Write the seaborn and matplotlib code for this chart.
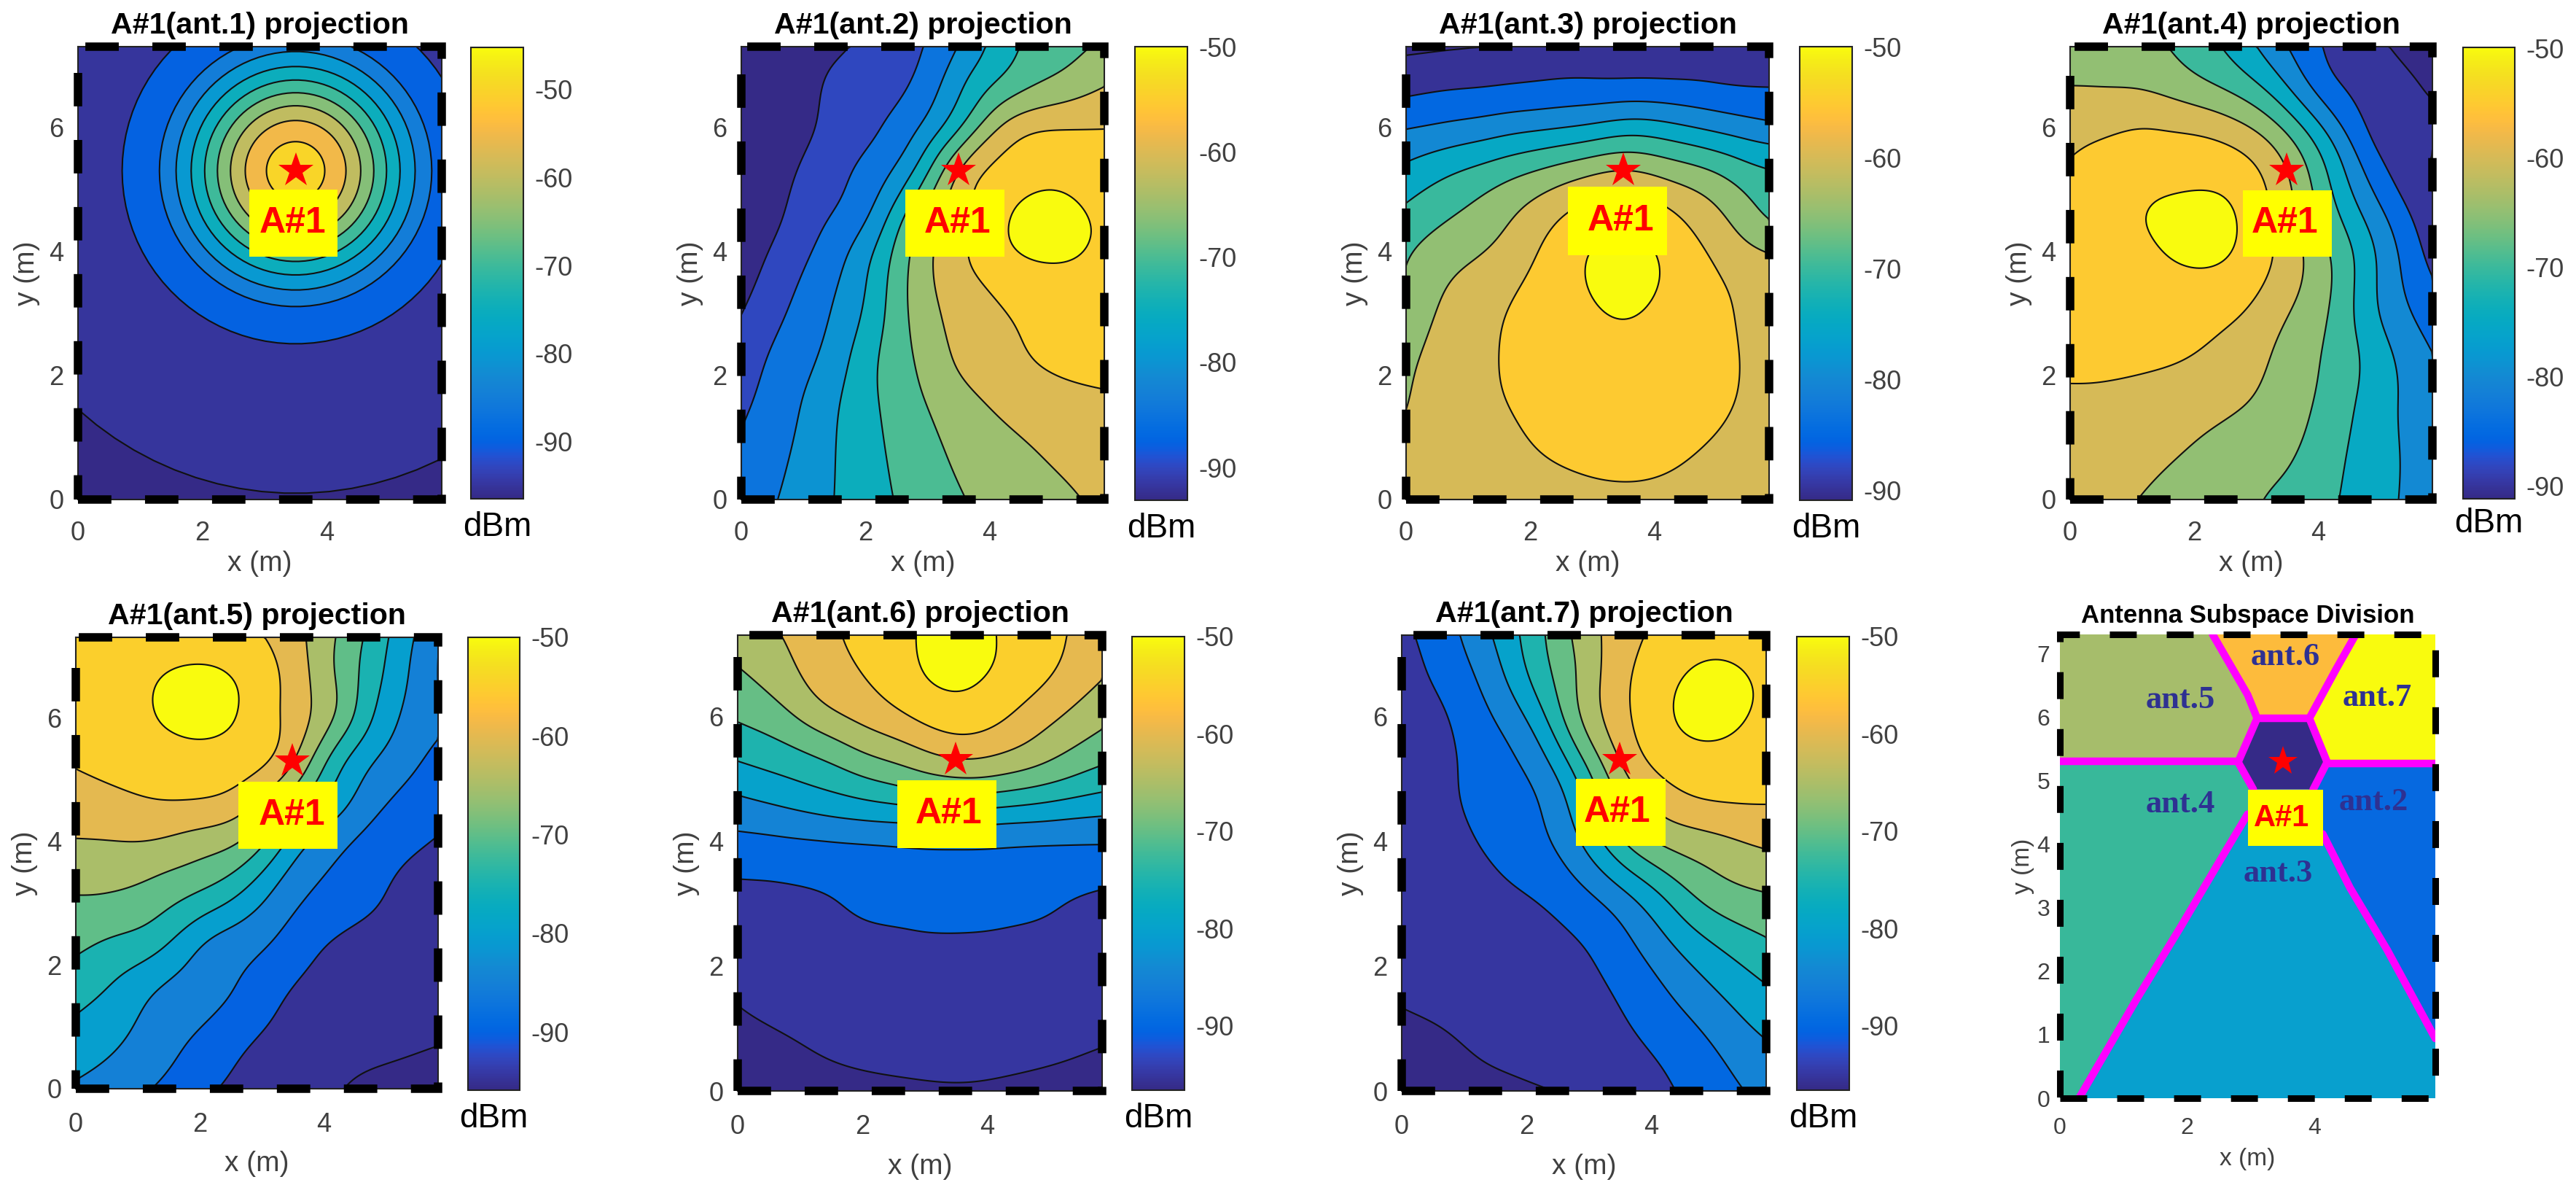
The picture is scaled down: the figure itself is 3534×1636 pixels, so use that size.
import matplotlib
matplotlib.use("Agg")
import numpy as np
import seaborn as sns
import matplotlib.pyplot as plt
import matplotlib.tri as tri
from matplotlib.cm import ScalarMappable
from matplotlib.colors import Normalize

# sample grid (m), values below are dBm, rows go from y=0 up
x_grid = [0, 0.7, 1.4, 2.1, 2.8, 3.5, 4.2, 4.9, 5.85]
y_grid = [0, 0.8, 1.6, 2.4, 3.2, 4.0, 4.6, 5.3, 6.0, 6.6, 7.3]

# ant.1 rings are circles round the access point, so read one radial profile
ant1_radius = [0, 0.3, 0.68, 0.94, 1.155, 1.36, 1.565, 1.795, 2.05, 2.33, 3.25, 7.15]
ant1_ring_dbm = [-46.5, -48, -52.5, -57.5, -62.5, -67.5, -72.5, -77.5, -82.5, -87.5, -92.5, -97.5]

ant2_dbm = [
    [-83, -79.4, -75.5, -71.8, -68.3, -65.4, -63.2, -61.5, -59],
    [-84.3, -80.7, -75.8, -71.3, -67.3, -64, -61.5, -59.6, -57.7],
    [-86, -82, -76.6, -70.8, -66, -61.8, -58.8, -57, -55.7],
    [-88, -83.5, -79, -71.2, -64.6, -58.9, -56.4, -54, -53],
    [-90.8, -85.7, -80.7, -73.5, -63.2, -58, -54.7, -52.7, -52],
    [-93, -88.2, -83, -75.6, -63.5, -56, -50.8, -49, -51],
    [-94, -90, -85.3, -80, -66.7, -57.2, -50.7, -48.5, -51],
    [-95, -91, -87.3, -83, -75, -59.4, -53.2, -51, -52.5],
    [-95.5, -92.5, -89, -86, -81, -71, -59, -55.2, -55],
    [-96, -93.5, -89.2, -87, -84.3, -75.7, -67.8, -63.5, -59.5],
    [-96.5, -94.5, -91.5, -88.7, -86, -80, -72.3, -67.8, -64],
]

ant3_dbm = [
    [-58, -57.5, -57, -56.5, -55.8, -55.5, -55.8, -56.5, -57.3],
    [-59, -57.8, -56.5, -55, -54.2, -53.9, -54.2, -55.3, -56.8],
    [-60.2, -57.5, -55.5, -53.8, -52.5, -52, -52.5, -54, -56.3],
    [-61.3, -57.8, -55.3, -53, -51.3, -50.8, -51.5, -53.6, -56.3],
    [-64, -59, -56.2, -53.2, -50.6, -49.3, -50.7, -53.5, -57.7],
    [-65.5, -62, -59.5, -55.2, -50.4, -48.8, -50.6, -55.4, -60],
    [-68.8, -65.4, -62.2, -57.8, -53.5, -51.3, -53.8, -58.4, -66.2],
    [-73.8, -70.6, -67.8, -64.8, -61.7, -59.5, -61.8, -64.6, -69.5],
    [-80.3, -79, -77.5, -76, -74.7, -72.5, -73.5, -76, -79],
    [-86, -85, -84.5, -83.8, -83.2, -83, -83.2, -83.9, -84.7],
    [-91, -90.5, -89.9, -89.2, -89, -89, -89, -89.2, -89.8],
]

ant4_dbm = [
    [-57.5, -59, -60.8, -62.5, -64, -66.3, -69.3, -72.8, -78],
    [-56.5, -57.7, -59, -60.6, -62.5, -64, -68.3, -72.5, -78],
    [-55.7, -56, -56.8, -57.9, -59.6, -62.5, -66.8, -72.2, -78.6],
    [-53.5, -53.5, -53.8, -55, -57.3, -61.5, -65.9, -72.2, -80.3],
    [-52.8, -52.3, -51.8, -52.5, -54, -59, -64.8, -74.5, -83.5],
    [-53.5, -52, -50.3, -48.5, -50.8, -57, -65, -74.5, -87],
    [-53, -51.5, -49.3, -48, -50.6, -58, -68, -77.6, -89],
    [-54.5, -53, -51.8, -51.5, -52.9, -59.6, -70.8, -82.5, -90.5],
    [-56.5, -55.5, -55, -56, -59, -66, -77, -86.5, -89.5],
    [-59.7, -59.8, -60.5, -63.2, -66.8, -74.2, -83.5, -87.3, -90.3],
    [-62.5, -62.8, -64.3, -67.8, -73, -80, -86, -89, -93],
]

ant5_dbm = [
    [-80.7, -83, -85.7, -89.3, -91.5, -93, -94.8, -95.7, -96.5],
    [-76.8, -79.5, -83, -86.2, -89.7, -92, -93.5, -94.2, -94.8],
    [-73, -76.3, -80.7, -83.2, -86.2, -90.3, -92, -93, -93.6],
    [-68.6, -70.7, -73.6, -80.2, -83.2, -87, -90.4, -91.7, -92.8],
    [-64.7, -65, -67.3, -70.3, -76, -83.4, -86.5, -89.5, -92.3],
    [-60.2, -60, -60.4, -62.6, -66, -76.9, -83.5, -87.5, -90.3],
    [-57.4, -56.5, -55.3, -55.6, -59, -69, -77.8, -84.4, -88.8],
    [-54.5, -53, -51.8, -51.5, -52.9, -59, -73, -80.8, -86.8],
    [-53.5, -52, -49.6, -48.5, -51, -56.8, -65, -76.6, -84],
    [-54, -52.2, -49.6, -48.7, -50.9, -56.8, -65, -74.5, -85.4],
    [-54.3, -53.5, -52.6, -52.3, -53.8, -58, -65, -73, -84.2],
]

ant6_dbm = [
    [-97, -96.7, -96.3, -95.8, -95.5, -95.3, -95.5, -95.9, -96.6],
    [-95.8, -95.3, -94.4, -93.8, -93.5, -93.4, -93.6, -94, -94.8],
    [-94.6, -93.6, -93, -92.5, -92.2, -92.1, -92.2, -92.5, -93.2],
    [-92.6, -92.2, -91.6, -91, -90.7, -90.6, -90.7, -90.9, -91.7],
    [-90.9, -90.6, -90, -88.8, -88, -87.7, -88.1, -89, -90.3],
    [-86.3, -85.8, -85.2, -84.7, -84.3, -84, -84.3, -84.5, -84.6],
    [-81.3, -79.5, -77.5, -75.7, -74.2, -73.2, -73.8, -75.3, -77.5],
    [-74.8, -72.8, -70, -66, -63, -60, -61, -64, -69.2],
    [-69.3, -66.5, -61.5, -58, -54.6, -52, -54, -58.3, -63.7],
    [-66, -62.5, -57.5, -54.8, -50.9, -49, -50.8, -54.3, -60],
    [-62.5, -60, -56.3, -53.1, -50.3, -48, -50.2, -53.4, -57.8],
]

ant7_dbm = [
    [-96.8, -96.3, -95.9, -95.3, -94.5, -92.8, -90.8, -87.8, -83.5],
    [-95.8, -95.3, -94.3, -93.6, -92.5, -91, -88.8, -85.3, -80],
    [-94.6, -94, -93.4, -92.7, -91.7, -89.5, -85.5, -81, -75.5],
    [-93.6, -93, -92.4, -91.5, -90.3, -86.7, -81, -75.3, -70.3],
    [-93, -92.2, -91, -89.7, -86.5, -81, -74, -67.7, -64.8],
    [-92.8, -91.8, -89.3, -86.8, -81, -70.5, -63.8, -61.7, -59],
    [-92.8, -91.2, -88, -86, -78, -65, -58, -55.3, -54.8],
    [-92.8, -91, -87.5, -83.3, -72.3, -59.6, -52.8, -51, -52.5],
    [-92.7, -90.4, -85.5, -78.5, -65.7, -56.7, -50.6, -48.7, -51],
    [-92.3, -88.6, -83.2, -74.2, -65, -56.5, -51.2, -48.8, -50.8],
    [-91, -87, -80.5, -72.5, -64, -57.5, -53.5, -51.8, -52.6],
]

panel_fields = [None, ant2_dbm, ant3_dbm, ant4_dbm, ant5_dbm, ant6_dbm, ant7_dbm]
panel_titles = ["A#1(ant.1) projection", "A#1(ant.2) projection", "A#1(ant.3) projection",
                "A#1(ant.4) projection", "A#1(ant.5) projection", "A#1(ant.6) projection",
                "A#1(ant.7) projection"]
clim_low = [-96.5, -93.1, -90.9, -91.2, -95.9, -96.6, -96.6]
clim_high = [-45.2, -50, -50, -49.9, -50, -50, -50]
lowest_level = [-95, -90, -90, -90, -95, -95, -95]
cbar_ticks = [-90, -80, -70, -60, -50]
star_xy = (3.5, 5.3)

# label box around the access point: left, right, bottom, top, text x
ap_boxes = [
    (2.75, 4.17, 3.91, 5.0, 3.45),
    (2.64, 4.24, 3.91, 5.0, 3.48),
    (2.61, 4.20, 3.94, 5.04, 3.46),
    (2.79, 4.22, 3.91, 4.99, 3.47),
    (2.63, 4.23, 3.88, 4.97, 3.49),
    (2.56, 4.15, 3.89, 4.98, 3.39),
    (2.80, 4.23, 3.92, 5.0, 3.46),
    (2.95, 4.13, 3.97, 4.85, 3.48),
]

# subspace division, last panel
region_names = ["ant.2", "ant.3", "ant.4", "ant.5", "ant.6", "ant.7"]
region_label_x = [4.93, 3.43, 1.89, 1.89, 3.54, 4.99]
region_label_y = [4.66, 3.54, 4.62, 6.27, 6.94, 6.30]
region_colors = ["#0669E0", "#08A0CE", "#38B89A", "#A6BD6B", "#FDBB3C", "#F9FB0E"]
region_polys = [
    [(4.2, 5.27), (5.9, 5.27), (5.9, 0.94), (5.14, 2.34), (4.56, 3.31), (4.13, 4.16), (3.98, 4.86)],
    [(0.3, 0), (1.2, 1.55), (1.9, 2.7), (2.55, 3.8), (2.95, 4.47), (3.04, 4.86), (3.98, 4.86),
     (4.13, 4.16), (4.56, 3.31), (5.14, 2.34), (5.9, 0.94), (5.9, 0)],
    [(0, 0), (0.3, 0), (1.2, 1.55), (1.9, 2.7), (2.55, 3.8), (2.95, 4.47), (3.04, 4.86), (2.8, 5.3), (0, 5.3)],
    [(0, 5.3), (2.8, 5.3), (3.1, 5.98), (2.95, 6.35), (2.4, 7.3), (0, 7.3)],
    [(2.4, 7.3), (2.95, 6.35), (3.1, 5.98), (3.92, 5.98), (4.35, 6.77), (4.65, 7.3)],
    [(4.65, 7.3), (4.35, 6.77), (3.92, 5.98), (4.2, 5.27), (5.9, 5.27), (5.9, 7.3)],
]
center_poly = [(3.1, 5.98), (3.92, 5.98), (4.2, 5.29), (3.98, 4.86), (3.04, 4.86), (2.8, 5.29)]
border_lines = [
    [(0, 5.3), (2.8, 5.3)],
    [(4.2, 5.27), (5.9, 5.27)],
    [(2.4, 7.3), (2.95, 6.35), (3.1, 5.98)],
    [(4.65, 7.3), (4.35, 6.77), (3.92, 5.98)],
    [(0.3, 0), (1.2, 1.55), (1.9, 2.7), (2.55, 3.8), (2.95, 4.47)],
    [(4.13, 4.16), (4.56, 3.31), (5.14, 2.34), (5.9, 0.94)],
    [(3.04, 4.86), (2.8, 5.29), (3.1, 5.98), (3.92, 5.98), (4.2, 5.29), (3.98, 4.86)],
]

parula_rgb = [
    (.2081, .1663, .5292), (.2116, .1898, .5777), (.2123, .2138, .6270), (.2081, .2386, .6771),
    (.1959, .2645, .7279), (.1707, .2919, .7792), (.1253, .3242, .8303), (.0591, .3598, .8683),
    (.0117, .3875, .8820), (.0060, .4086, .8828), (.0165, .4266, .8786), (.0329, .4430, .8720),
    (.0498, .4586, .8641), (.0629, .4737, .8554), (.0723, .4887, .8467), (.0779, .5040, .8384),
    (.0793, .5200, .8312), (.0749, .5375, .8263), (.0641, .5570, .8240), (.0488, .5772, .8228),
    (.0343, .5966, .8199), (.0265, .6137, .8135), (.0239, .6287, .8038), (.0231, .6418, .7913),
    (.0228, .6535, .7768), (.0267, .6642, .7607), (.0384, .6743, .7436), (.0590, .6838, .7254),
    (.0843, .6928, .7062), (.1133, .7015, .6859), (.1453, .7098, .6646), (.1801, .7177, .6424),
    (.2178, .7250, .6193), (.2586, .7317, .5954), (.3022, .7376, .5712), (.3482, .7424, .5473),
    (.3953, .7459, .5244), (.4420, .7481, .5033), (.4871, .7491, .4840), (.5300, .7491, .4661),
    (.5709, .7485, .4494), (.6099, .7473, .4337), (.6473, .7456, .4188), (.6834, .7435, .4044),
    (.7184, .7411, .3905), (.7525, .7384, .3768), (.7858, .7356, .3633), (.8185, .7327, .3498),
    (.8507, .7299, .3360), (.8824, .7274, .3217), (.9139, .7258, .3063), (.9450, .7261, .2886),
    (.9739, .7314, .2666), (.9938, .7455, .2403), (.9990, .7653, .2164), (.9955, .7861, .1967),
    (.9880, .8066, .1794), (.9789, .8271, .1633), (.9697, .8481, .1475), (.9626, .8705, .1309),
    (.9589, .8949, .1132), (.9598, .9218, .0948), (.9661, .9514, .0755), (.9763, .9831, .0538),
]

# layout in pixels: axes left, right, top, bottom and colorbar left, right, top, bottom
W, H = 3534, 1636
axes_px = [
    (107, 606, 64, 685), (1017, 1515, 64, 685), (1929, 2427, 64, 685), (2840, 3337, 64, 685),
    (104, 601, 874, 1493), (1012, 1512, 871, 1496), (1923, 2423, 871, 1496),
]
cbar_px = [
    (646, 718, 65, 684), (1557, 1629, 64, 686), (2469, 2541, 64, 686), (3379, 3450, 65, 684),
    (642, 713, 874, 1495), (1553, 1625, 873, 1495), (2465, 2537, 873, 1495),
]
dbm_offset = [-0.0625, -0.0625, -0.0625, -0.055, -0.0625, -0.0625, -0.0625]
last_px = (2826, 3341, 870, 1506)
TEXT_GREY = "#404040"
BLUR_M = 0.2


def add_axes_px(fig, box):
    left, right, top, bottom = box
    return fig.add_axes([left / W, 1 - bottom / H, (right - left) / W, (bottom - top) / H])


def draw_dashes(ax, xmax, ymax, width, on, off):
    # goes round from the origin, counter-clockwise
    line = ax.plot([0, xmax, xmax, 0, 0], [0, 0, ymax, ymax, 0], color="black", lw=width,
                   dashes=(on, off), clip_on=False, zorder=10)[0]
    line.set_dash_capstyle("butt")
    line.set_dash_joinstyle("miter")


def draw_ap(ax, box, font_size, star_size):
    left, right, bottom, top, text_x = box
    ax.fill([left, right, right, left], [bottom, bottom, top, top], color="#FFFF00", lw=0, zorder=5)
    ax.text(text_x, (bottom + top) / 2, "A#1", color="red", fontsize=font_size, fontweight="bold",
            ha="center", va="center", zorder=6)
    ax.plot([star_xy[0]], [star_xy[1]], marker="*", ms=star_size, color="red", mew=0, zorder=7,
            clip_on=False)


def soften(values, step):
    # hand-read grid is a bit wobbly, take the wiggles out before contouring
    half = int(round(3 * BLUR_M / step))
    offsets = np.arange(-half, half + 1) * step
    kernel = np.exp(-0.5 * (offsets / BLUR_M) ** 2)
    kernel /= kernel.sum()
    padded = np.pad(values, half, mode="reflect", reflect_type="odd")
    padded = np.apply_along_axis(lambda r: np.convolve(r, kernel, mode="same"), 0, padded)
    padded = np.apply_along_axis(lambda r: np.convolve(r, kernel, mode="same"), 1, padded)
    return padded[half:-half, half:-half]


def draw_contours(ax, idx, cmap, norm):
    levels = list(range(lowest_level[idx], -45, 5))
    band_colors = [cmap(0.0)] + [cmap(norm(v)) for v in levels]
    bounds = [-200] + levels + [0]
    if panel_fields[idx] is None:
        angles = np.arange(0, 360, 4) * np.pi / 180
        xs = [star_xy[0]]
        ys = [star_xy[1]]
        zs = [ant1_ring_dbm[0]]
        for radius, dbm in zip(ant1_radius[1:], ant1_ring_dbm[1:]):
            xs.extend(star_xy[0] + radius * np.cos(angles))
            ys.extend(star_xy[1] + radius * np.sin(angles))
            zs.extend([dbm] * len(angles))
        mesh = tri.Triangulation(xs, ys)
        ax.tricontourf(mesh, zs, levels=bounds, colors=band_colors)
        ax.tricontour(mesh, zs, levels=levels, colors="#111111", linewidths=1.5, linestyles="solid")
        return

    xx, yy = np.meshgrid(x_grid, y_grid)
    field = np.array(panel_fields[idx], dtype=float)
    mesh = tri.Triangulation(xx.ravel(), yy.ravel())
    smooth = tri.CubicTriInterpolator(mesh, field.ravel(), kind="min_E")
    step = 0.04
    xf = np.clip(np.arange(0, 5.85 + step, step), 1e-6, 5.85 - 1e-6)
    yf = np.clip(np.arange(0, 7.3 + step, step), 1e-6, 7.3 - 1e-6)
    xxf, yyf = np.meshgrid(xf, yf)
    zf = soften(np.ma.filled(smooth(xxf, yyf), np.nan), step)
    ax.contourf(xf, yf, zf, levels=bounds, colors=band_colors)
    ax.contour(xf, yf, zf, levels=levels, colors="#111111", linewidths=1.5, linestyles="solid")


def draw_field(fig, idx, cmap):
    ax = add_axes_px(fig, axes_px[idx])
    norm = Normalize(clim_low[idx], clim_high[idx])
    draw_contours(ax, idx, cmap, norm)

    ax.set_xlim(0, 5.85)
    ax.set_ylim(0, 7.3)
    ax.set_xticks([0, 2, 4])
    ax.set_yticks([0, 2, 4, 6])
    bottom_row = idx >= 4
    ax.tick_params(axis="x", direction="in", length=6, width=1, labelsize=26, labelcolor=TEXT_GREY,
                   pad=23 if bottom_row else 21)
    ax.tick_params(axis="y", direction="in", length=6, width=1, labelsize=26, labelcolor=TEXT_GREY, pad=14)
    for spine in ax.spines.values():
        spine.set_linewidth(1.5)
        spine.set_color("#222222")

    ax.set_xlabel("x (m)", fontsize=28, color=TEXT_GREY, va="center")
    ax.set_ylabel("y (m)", fontsize=28, color=TEXT_GREY, va="center")
    ax.xaxis.set_label_coords(0.5, -0.166 if bottom_row else -0.142)
    ax.yaxis.set_label_coords(-0.14, 0.5)
    ax.text(0.5, 1.047, panel_titles[idx], transform=ax.transAxes, fontsize=29.6, fontweight="bold",
            ha="center", va="center", color="black")

    draw_dashes(ax, 5.85, 7.3, 8.3, 33, 33.2)
    draw_ap(ax, ap_boxes[idx], 36, 35.6)

    cax = add_axes_px(fig, cbar_px[idx])
    cbar = fig.colorbar(ScalarMappable(norm=norm, cmap=cmap), cax=cax, ticks=cbar_ticks)
    cbar.outline.set_linewidth(1.5)
    cbar.outline.set_edgecolor("#222222")
    cax.tick_params(direction="in", length=6, width=1, labelsize=26, labelcolor=TEXT_GREY, pad=11)
    cax.text(0.5, dbm_offset[idx], "dBm", transform=cax.transAxes, fontsize=33, ha="center", va="center",
             color="black")


def draw_division(fig):
    ax = add_axes_px(fig, last_px)
    for poly, color in zip(region_polys, region_colors):
        ax.fill(*zip(*poly), color=color, lw=0)
    ax.fill(*zip(*center_poly), color="#352A87", lw=0)
    for line in border_lines:
        ax.plot(*zip(*line), color="#FF00FF", lw=7.5, solid_capstyle="round", zorder=3)
    for name, lx, ly in zip(region_names, region_label_x, region_label_y):
        ax.text(lx, ly, name, fontsize=32, fontweight="bold", color="#2E3192", family="Liberation Serif",
                ha="center", va="center", zorder=6)

    ax.set_xlim(0, 5.9)
    ax.set_ylim(0, 7.3)
    ax.set_xticks([0, 2, 4])
    ax.set_yticks(range(8))
    ax.tick_params(axis="x", length=0, labelsize=23, labelcolor=TEXT_GREY, pad=19)
    ax.tick_params(axis="y", length=0, labelsize=23, labelcolor=TEXT_GREY, pad=10)
    sns.despine(ax=ax, left=True, bottom=True)
    ax.set_xlabel("x (m)", fontsize=24, color=TEXT_GREY, va="center")
    ax.set_ylabel("y (m)", fontsize=24, color=TEXT_GREY, va="center")
    ax.xaxis.set_label_coords(0.5, -0.132)
    ax.yaxis.set_label_coords(-0.098, 0.5)
    ax.text(0.5, 1.04, "Antenna Subspace Division", transform=ax.transAxes, fontsize=25,
            fontweight="bold", ha="center", va="center", color="black")

    draw_dashes(ax, 5.9, 7.3, 6.5, 26.6, 29.6)
    draw_ap(ax, ap_boxes[7], 30, 30)


def main():
    sns.set_theme(style="ticks")
    plt.rcParams["font.family"] = ["Liberation Sans", "DejaVu Sans"]
    plt.rcParams["axes.unicode_minus"] = False
    plt.rcParams["lines.scale_dashes"] = False

    cmap = sns.blend_palette(parula_rgb, n_colors=64, as_cmap=True)
    fig = plt.figure(figsize=(W / 100, H / 100), dpi=100)
    for idx in range(len(panel_fields)):
        draw_field(fig, idx, cmap)
    draw_division(fig)
    fig.savefig("out.png", dpi=100)


if __name__ == "__main__":
    main()
